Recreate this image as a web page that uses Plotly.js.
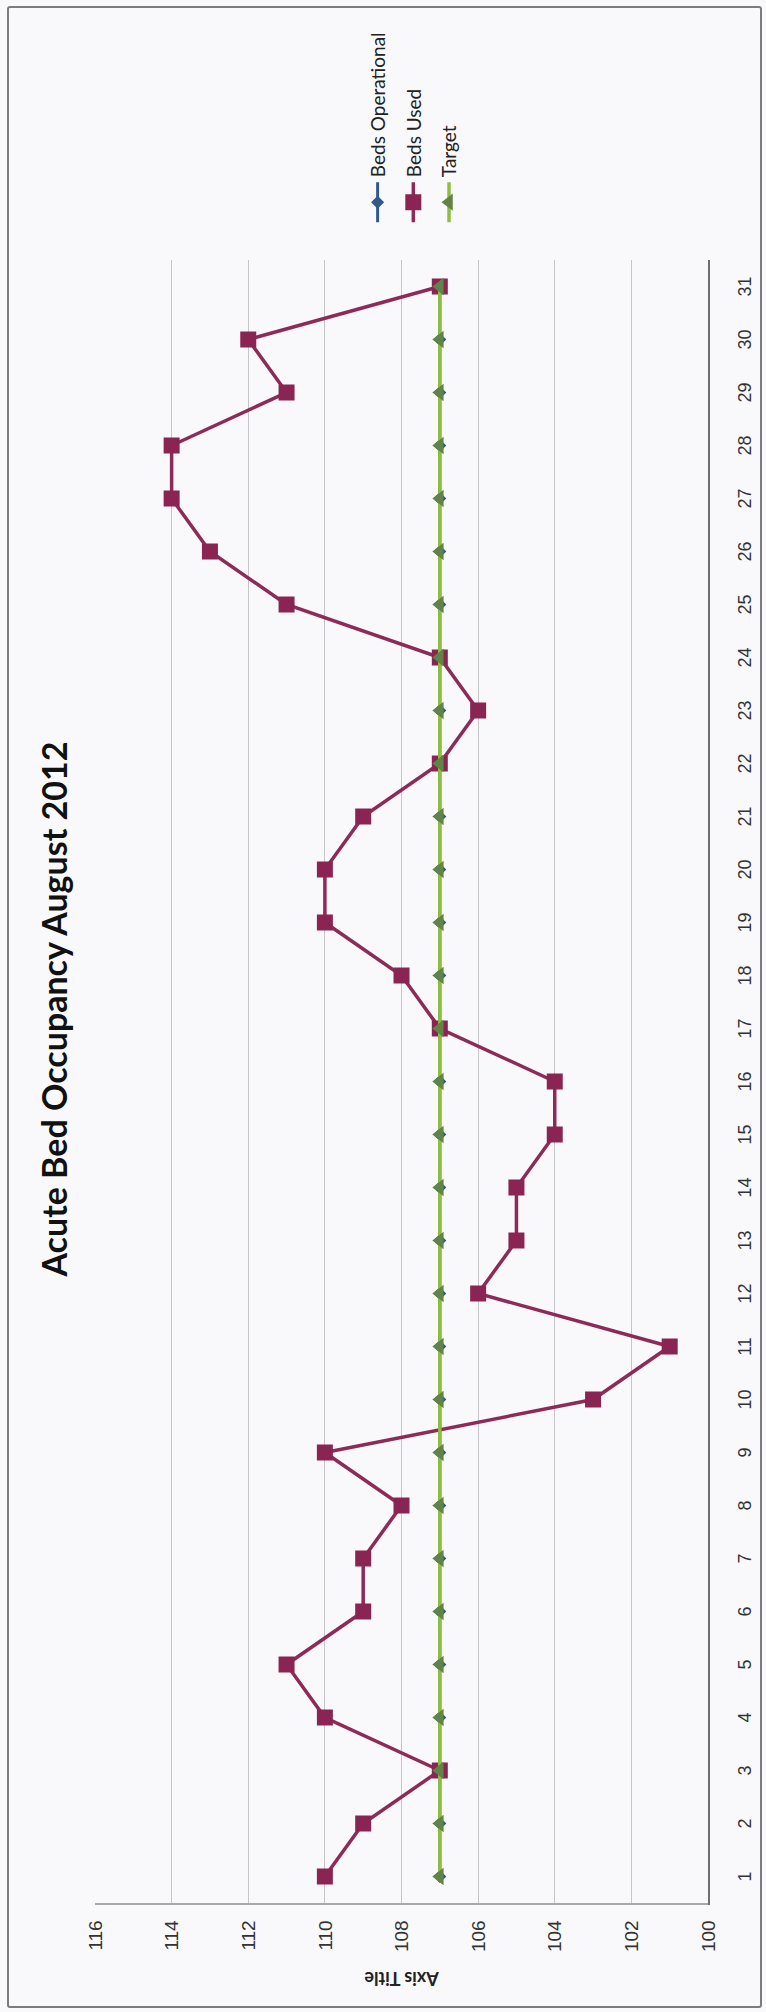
<!DOCTYPE html>
<html>
<head>
<meta charset="utf-8">
<script src="https://cdn.plot.ly/plotly-3.0.1.min.js"></script>
<style>
  html, body { margin: 0; padding: 0; width: 766px; height: 2012px; overflow: hidden; background: #f9f9fc; }
  #plot {
    position: absolute; left: 0; top: 0;
    width: 2012px; height: 766px;
    transform-origin: 0 0;
    transform: translate(0px, 2012px) rotate(-90deg);
  }
  #frame {
    position: absolute; left: 7px; top: 6px; width: 751px; height: 1998px;
    border: 2px solid #7c7c7c; border-radius: 3px; pointer-events: none;
  }
</style>
</head>
<body>
<div id="plot"></div>
<div id="frame"></div>
<script>
// ---- data ----
const days = [1,2,3,4,5,6,7,8,9,10,11,12,13,14,15,16,17,18,19,20,21,22,23,24,25,26,27,28,29,30,31];
const bedsOperational = [107,107,107,107,107,107,107,107,107,107,107,107,107,107,107,107,107,107,107,107,107,107,107,107,107,107,107,107,107,107,107];
const bedsUsed = [110,109,107,110,111,109,109,108,110,103,101,106,105,105,104,104,107,108,110,110,109,107,106,107,111,113,114,114,111,112,107];
const target = [107,107,107,107,107,107,107,107,107,107,107,107,107,107,107,107,107,107,107,107,107,107,107,107,107,107,107,107,107,107,107];
const valueTicks = [100,102,104,106,108,110,112,114,116];

const traces = [
  {
    x: days, y: bedsOperational, name: 'Beds Operational', type: 'scatter', mode: 'lines+markers',
    line: {color: '#2f5b8c', width: 3}, marker: {symbol: 'diamond', size: 10, color: '#2f5b8c'},
    legendgroup: 'a'
  },
  {
    x: days, y: bedsUsed, name: 'Beds Used', type: 'scatter', mode: 'lines+markers',
    line: {color: '#8e2a58', width: 3.5}, marker: {symbol: 'square', size: 16, color: '#8a2452'},
    legendgroup: 'b'
  },
  {
    x: days, y: target, name: 'Target', type: 'scatter', mode: 'lines+markers',
    line: {color: '#8cbf3f', width: 3.5}, marker: {symbol: 'triangle-up', size: 15, color: '#5f8446'},
    legendgroup: 'c'
  }
];

const layout = {
  width: 2012, height: 766,
  margin: {l: 109, r: 260, t: 95, b: 58},
  paper_bgcolor: '#f9f9fc', plot_bgcolor: '#f9f9fc',
  showlegend: true,
  title: {
    text: 'Acute Bed Occupancy August 2012',
    font: {family: 'Lato, "Open Sans", sans-serif', size: 34, color: '#111', weight: 'bold'},
    xref: 'container', yref: 'container', x: 0.4985, y: 0.928, xanchor: 'center', yanchor: 'middle'
  },
  xaxis: {
    range: [0.5, 31.5], tickvals: days, ticks: '', showgrid: false, zeroline: false,
    showline: true, linecolor: '#6f6f6f', linewidth: 1.5,
    tickfont: {family: '"Liberation Sans", Arial, sans-serif', size: 18, color: '#333'},
    ticklabelstandoff: 20
  },
  yaxis: {
    range: [100, 116], tickvals: valueTicks, ticks: '', zeroline: false,
    showgrid: true, gridcolor: '#c6c6ca', gridwidth: 1,
    showline: true, linecolor: '#a8a8ab', linewidth: 1.5,
    tickfont: {family: '"Liberation Sans", Arial, sans-serif', size: 19, color: '#333'},
    ticklabelstandoff: 12,
    title: {text: 'Axis Title', standoff: 14,
      font: {family: 'Lato, "Open Sans", sans-serif', size: 18, color: '#222', weight: 'bold'}}
  },
  legend: {
    x: 1.02, xanchor: 'left', y: 0.48, yanchor: 'middle',
    font: {family: 'Lato, "Open Sans", sans-serif', size: 19, color: '#222'},
    bgcolor: 'rgba(0,0,0,0)', itemwidth: 40, traceorder: 'grouped', tracegroupgap: 8
  }
};

Plotly.newPlot('plot', traces, layout, {displayModeBar: false, staticPlot: true});
</script>
</body>
</html>
